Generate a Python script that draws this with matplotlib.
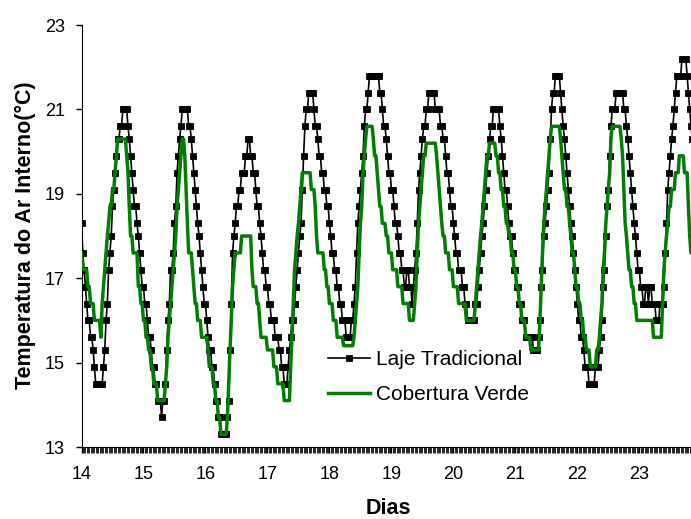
import numpy as np
import matplotlib
matplotlib.use('Agg')
import matplotlib.pyplot as plt

# leituras a cada 30 min (48 por dia), dias 14 a 23
dias = list(range(14, 24))
pontos_por_dia = 48

laje = [
    # dia 14
    18.3,17.6,17.2,16.8,16.4,16.0,16.0,15.6,15.6,15.3,14.9,14.5,14.5,14.5,14.5,14.5,14.5,14.9,15.3,16.0,16.4,17.2,17.6,18.0,
    18.7,19.1,19.5,19.9,20.3,20.3,20.6,20.6,21.0,21.0,21.0,21.0,20.6,20.3,19.9,19.5,19.1,18.7,18.7,18.3,18.0,17.6,17.2,16.8,
    # dia 15
    16.8,16.4,16.4,16.0,15.6,15.6,15.3,14.9,14.9,14.5,14.5,14.1,14.1,14.1,13.7,14.1,14.1,14.5,15.3,16.0,16.4,17.2,17.2,17.6,
    18.3,18.7,19.5,19.9,20.3,20.6,21.0,21.0,21.0,21.0,21.0,20.6,20.6,20.3,19.9,19.5,19.1,18.7,18.3,18.0,17.6,17.2,16.8,16.4,
    # dia 16
    16.4,16.0,15.6,15.3,15.3,14.9,14.9,14.5,14.1,14.1,13.7,13.7,13.3,13.3,13.3,13.3,13.3,13.7,14.1,15.3,16.4,17.6,18.0,18.3,
    18.7,18.7,19.1,19.1,19.5,19.5,19.5,19.9,19.9,20.3,20.3,19.9,19.9,19.5,19.5,19.1,18.7,18.7,18.3,18.0,17.6,17.2,17.2,16.8,
    # dia 17
    16.8,16.4,16.4,16.0,16.0,16.0,15.6,15.6,15.6,15.3,15.3,14.9,14.9,14.5,14.5,14.5,14.9,15.3,15.6,16.0,16.0,16.4,16.8,17.2,
    17.6,18.0,18.3,19.1,19.9,20.6,21.0,21.0,21.4,21.4,21.4,21.4,21.0,20.6,20.6,20.3,19.9,19.9,19.5,19.5,19.1,19.1,18.7,18.7,
    # dia 18
    18.3,18.0,17.6,17.6,17.2,17.2,16.8,16.8,16.4,16.4,16.0,16.0,16.0,15.6,15.6,15.6,15.6,16.0,16.0,16.4,16.8,17.6,18.3,18.7,
    19.1,19.5,19.9,20.6,21.0,21.0,21.4,21.8,21.8,21.8,21.8,21.8,21.8,21.8,21.8,21.4,21.4,21.0,20.6,20.6,20.3,19.9,19.5,19.5,
    # dia 19
    19.1,19.1,18.7,18.3,18.3,18.0,17.6,17.6,17.2,17.2,16.8,16.8,17.2,17.2,16.8,16.8,16.4,16.8,17.2,17.6,18.3,19.1,19.5,19.9,
    20.3,20.6,20.6,21.0,21.0,21.4,21.4,21.4,21.4,21.4,21.0,21.0,21.0,21.0,20.6,20.6,20.3,20.3,19.9,19.5,19.5,19.1,18.7,18.7,
    # dia 20
    18.3,18.0,17.6,17.6,17.2,17.2,17.2,16.8,16.8,16.4,16.4,16.0,16.0,16.0,16.0,16.0,16.0,16.4,16.4,16.8,17.2,17.6,18.0,18.3,
    18.7,19.1,19.5,19.9,20.3,20.6,20.6,21.0,21.0,21.0,21.0,21.0,20.6,20.3,19.9,19.5,19.1,19.1,18.7,18.3,18.0,18.0,17.6,17.2,
    # dia 21
    17.2,16.8,16.8,16.4,16.4,16.0,16.0,16.0,15.6,15.6,15.6,15.6,15.6,15.6,15.3,15.3,15.3,15.3,15.6,16.0,16.8,17.2,18.0,18.3,
    18.7,19.1,19.5,20.3,21.0,21.4,21.4,21.8,21.8,21.8,21.8,21.4,21.0,20.6,20.3,19.9,19.5,19.1,18.7,18.3,18.0,17.6,17.2,16.8,
    # dia 22
    16.4,16.0,16.0,15.6,15.6,15.3,14.9,14.9,14.9,14.5,14.5,14.5,14.5,14.5,14.9,14.9,14.9,15.3,15.6,16.0,16.8,17.2,18.0,18.7,
    19.1,19.9,20.6,21.0,21.0,21.0,21.4,21.4,21.4,21.4,21.4,21.4,21.0,21.0,20.6,20.3,19.9,19.5,19.1,18.7,18.3,18.0,17.6,17.2,
    # dia 23
    17.2,16.8,16.8,16.4,16.4,16.8,16.8,16.4,16.8,16.8,16.4,16.4,16.4,16.0,16.0,16.0,16.4,16.4,16.4,16.8,17.6,18.3,19.1,19.5,
    19.9,20.3,20.6,21.0,21.4,21.8,21.8,21.8,21.8,22.2,22.2,22.2,22.2,21.8,21.4,21.0,20.6,20.3,
]

verde = [
    # dia 14
    17.6,17.2,17.2,17.2,17.2,16.8,16.8,16.4,16.4,16.4,16.0,16.0,16.0,16.0,16.0,15.6,16.4,16.8,17.2,17.6,18.0,18.3,18.7,18.7,
    19.1,19.1,19.5,19.9,20.3,20.3,20.3,20.3,20.3,20.3,20.3,19.9,19.5,18.7,18.0,18.0,17.6,17.6,17.6,17.6,16.8,16.8,16.4,16.4,
    # dia 15
    16.0,16.0,15.6,15.6,15.3,15.3,14.9,14.9,14.5,14.5,14.5,14.1,14.1,14.1,14.1,14.1,14.1,14.5,14.9,15.6,16.0,16.4,16.8,17.2,
    17.6,18.0,18.7,19.1,19.5,19.9,20.3,20.3,19.9,19.1,18.3,17.6,17.6,17.6,17.2,16.8,16.4,16.4,16.0,16.0,16.0,15.6,15.6,15.6,
    # dia 16
    15.6,15.6,15.3,14.9,14.9,14.9,14.5,14.5,14.1,14.1,13.7,13.7,13.3,13.3,13.3,13.3,13.3,13.7,14.5,15.3,16.0,16.8,17.2,17.6,
    17.6,17.6,17.6,17.6,18.0,18.0,18.0,18.0,18.0,18.0,18.0,18.0,17.2,16.8,16.8,16.8,16.4,16.4,16.0,15.6,15.6,15.6,15.6,15.6,
    # dia 17
    15.3,15.3,15.3,15.3,15.3,14.9,14.9,14.9,14.5,14.5,14.5,14.5,14.5,14.1,14.1,14.1,14.1,14.1,14.9,15.6,16.4,17.2,17.6,18.0,
    18.3,18.7,19.1,19.5,19.5,19.5,19.5,19.5,19.5,19.5,19.1,19.1,19.1,18.7,18.0,17.6,17.6,17.6,17.6,17.6,17.2,17.2,16.8,16.8,
    # dia 18
    16.4,16.4,16.4,16.0,16.0,16.0,15.6,15.6,15.6,15.6,15.6,15.4,15.4,15.4,15.4,15.4,15.4,15.4,15.4,15.6,16.0,16.4,16.8,17.6,
    18.3,18.7,19.5,19.9,20.3,20.6,20.6,20.6,20.6,20.6,20.3,19.9,19.9,19.5,19.1,18.7,18.7,18.3,18.3,18.3,18.0,18.0,17.6,17.6,
    # dia 19
    17.6,17.2,17.2,17.2,17.2,16.8,16.8,16.8,16.8,16.4,16.4,16.4,16.4,16.4,16.0,16.0,16.0,16.0,16.4,16.8,17.6,18.3,18.7,19.1,
    19.5,19.9,19.9,20.2,20.2,20.2,20.2,20.2,20.2,20.2,20.2,19.9,19.5,19.1,18.7,18.3,18.0,18.0,17.6,17.6,17.6,17.2,17.2,17.2,
    # dia 20
    16.8,16.8,16.8,16.8,16.4,16.4,16.4,16.4,16.4,16.4,16.0,16.0,16.0,16.0,16.0,16.0,16.0,16.4,16.8,17.2,17.6,18.0,18.3,18.7,
    19.1,19.5,19.9,19.9,20.2,20.2,20.2,20.2,20.2,19.9,19.9,19.5,19.5,19.1,19.1,18.7,18.7,18.3,18.3,18.0,18.0,17.6,17.6,17.2,
    # dia 21
    17.2,16.8,16.8,16.4,16.4,16.0,16.0,16.0,15.6,15.6,15.6,15.6,15.3,15.3,15.3,15.3,15.3,15.3,15.3,16.0,16.8,17.6,18.3,18.7,
    19.1,19.5,19.9,20.3,20.6,20.6,20.6,20.6,20.6,20.6,20.6,20.3,19.9,19.5,19.1,19.1,18.7,18.7,18.3,18.0,17.6,17.6,17.2,16.8,
    # dia 22
    16.8,16.4,16.4,16.0,16.0,15.6,15.6,15.3,15.3,15.3,14.9,14.9,14.9,14.9,14.9,15.3,15.3,15.6,16.0,16.4,17.2,17.6,18.3,18.7,
    19.1,19.5,20.3,20.6,20.6,20.6,20.6,20.6,20.6,20.6,20.3,19.9,19.1,18.3,18.0,17.6,17.2,17.2,16.8,16.8,16.4,16.4,16.0,16.0,
    # dia 23
    16.0,16.0,16.0,16.0,16.0,16.0,16.0,16.0,16.0,16.0,16.0,15.6,15.6,15.6,15.6,15.6,15.6,15.6,16.4,17.2,17.6,18.0,18.3,18.7,
    18.7,19.1,19.1,19.1,19.5,19.5,19.5,19.9,19.9,19.9,19.9,19.5,19.5,19.5,18.7,18.0,17.6,17.6,
]

plt.rcParams['font.family'] = ['Liberation Sans', 'DejaVu Sans']

fig = plt.figure(figsize=(6.91, 5.19), dpi=100)
ax = fig.add_axes([81.5/691, 72/519, (691-81.5)/691, 422/519])

x_laje = np.arange(len(laje))
x_verde = np.arange(len(verde))

ax.plot(x_laje, laje, color='black', lw=1.2, marker='s', markersize=5,
        markeredgewidth=0.6, markeredgecolor='black', label='Laje Tradicional', zorder=2)
ax.plot(x_verde, verde, color='#008000', lw=2.5, label='Cobertura Verde', zorder=3)

ax.set_xlim(0, 472)
ax.set_ylim(13, 23)
ax.set_yticks(range(13, 24, 2))
ax.set_xticks([pontos_por_dia * k for k in range(len(dias))])
ax.set_xticklabels([str(d) for d in dias])
ax.set_xticks(np.arange(0, 473, 1), minor=True)

ax.spines['top'].set_visible(False)
ax.spines['right'].set_visible(False)
ax.tick_params(axis='both', which='major', direction='out', length=4, width=1,
               labelsize=13, colors='black')
ax.tick_params(axis='x', which='minor', direction='out', length=4, width=0.6)
ax.tick_params(axis='x', which='major', pad=10)
ax.tick_params(axis='y', which='major', pad=8)

# rótulos dos eixos
fig.text(388/691, 1 - 509/519, 'Dias', fontsize=15.5, fontweight='bold',
         ha='center', va='center')
fig.text(25/691, 1 - 235/519, 'Temperatura do Ar Interno(°C)', fontsize=15.5,
         fontweight='bold', rotation=90, ha='center', va='center')

fig.legend(loc='center left', bbox_to_anchor=(318/691, 1 - 377/519), frameon=False,
           fontsize=15, borderpad=0, handlelength=2.0, handletextpad=0.3,
           labelspacing=0.75)

fig.savefig('out.png', dpi=100)
